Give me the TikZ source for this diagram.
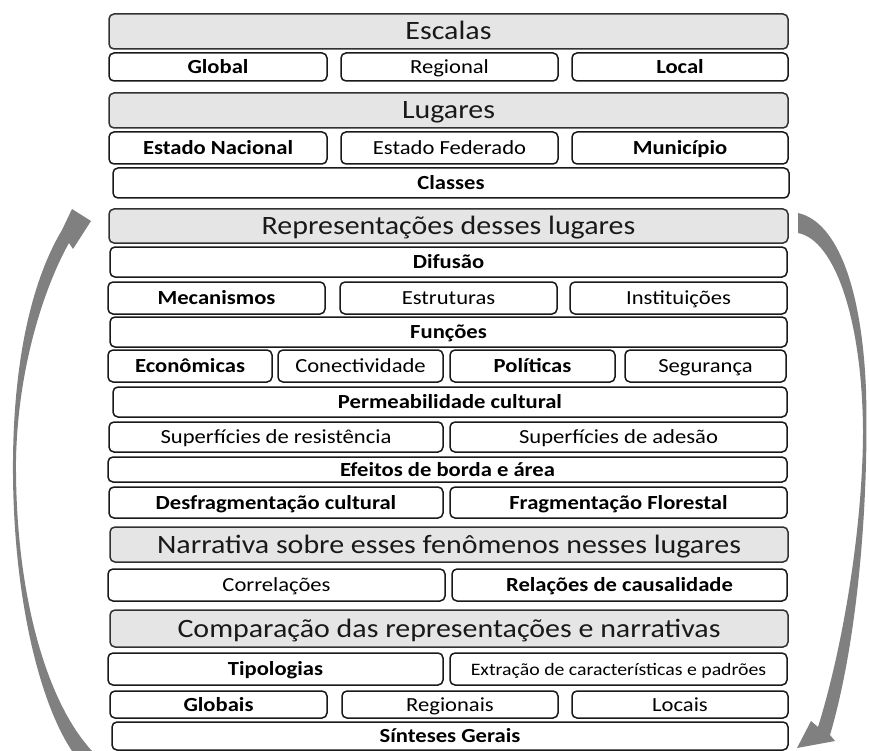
\documentclass[tikz,border=0pt]{standalone}
\usepackage{fontspec}
\setmainfont{Carlito}[FakeStretch=1.13]
\usepackage{tikz}

\definecolor{hdrgray}{RGB}{229,229,229}
\definecolor{arrowgray}{RGB}{128,128,128}
\definecolor{edgegray}{RGB}{50,50,50}

\begin{document}
\begin{tikzpicture}[x=1pt, y=-1pt,
        hdr/.style={draw=edgegray, fill=hdrgray, line width=1.5pt, rounded corners=5pt, inner sep=1pt, text height=21pt, text depth=4pt, font=\fontsize{26.5}{30}\selectfont, text=black!90},
        cell/.style={draw=black!90, fill=white, line width=1.5pt, rounded corners=5pt, inner sep=1pt, text height=16pt, text depth=3pt, font=\fontsize{20}{22}\selectfont},
        cellb/.style={cell, font=\fontsize{20}{22}\selectfont\bfseries}]

        \useasboundingbox (0, 0) rectangle (869, 751);

        % escalas
        \node[hdr, minimum width=679, minimum height=35] (escalas) at (448.5, 31.5) {Escalas};
        \node[cellb, minimum width=218, minimum height=28] (global) at (218, 67) {Global};
        \node[cell, minimum width=217, minimum height=28] (regional) at (449.5, 67) {Regional};
        \node[cellb, minimum width=216, minimum height=28] (local) at (680, 67) {Local};

        % lugares
        \node[hdr, minimum width=679, minimum height=35] (lugares) at (448.5, 110.5) {Lugares};
        \node[cellb, minimum width=218, minimum height=32] (estnac) at (218, 148) {Estado Nacional};
        \node[cell, minimum width=217, minimum height=32] (estfed) at (449.5, 148) {Estado Federado};
        \node[cellb, minimum width=216, minimum height=32] (municipio) at (680, 148) {Município};
        \node[cellb, minimum width=676, minimum height=30] (classes) at (451, 183) {Classes};

        % representacoes
        \node[hdr, minimum width=679, minimum height=34] (repres) at (448.5, 226) {Representações desses lugares};
        \node[cellb, minimum width=677, minimum height=30] (difusao) at (448.5, 262) {Difusão};
        \node[cellb, minimum width=217, minimum height=32] (mecan) at (216.5, 298) {Mecanismos};
        \node[cell, minimum width=217, minimum height=32] (estrut) at (448.5, 298) {Estruturas};
        \node[cell, minimum width=217, minimum height=32] (instit) at (678.5, 298) {Instituições};
        \node[cellb, minimum width=677, minimum height=30] (funcoes) at (448.5, 332) {Funções};
        \node[cellb, minimum width=164, minimum height=32] (econ) at (190, 366) {Econômicas};
        \node[cell, minimum width=165, minimum height=32] (conect) at (360.5, 366) {Conectividade};
        \node[cellb, minimum width=165, minimum height=32] (polit) at (532.5, 366) {Políticas};
        \node[cell, minimum width=161, minimum height=32] (segur) at (705.5, 366) {Segurança};
        \node[cellb, minimum width=674, minimum height=30] (permeab) at (450, 402) {Permeabilidade cultural};
        \node[cell, minimum width=334, minimum height=30] (supres) at (276, 437) {Superfícies de resistência};
        \node[cell, minimum width=337, minimum height=30] (supades) at (618.5, 437) {Superfícies de adesão};
        \node[cellb, minimum width=679, minimum height=25] (efeitos) at (447.5, 469.5) {Efeitos de borda e área};
        \node[cellb, minimum width=334, minimum height=31] (desfrag) at (276, 502.5) {Desfragmentação cultural};
        \node[cellb, minimum width=337, minimum height=31] (fragflor) at (618.5, 502.5) {Fragmentação Florestal};

        % narrativa
        \node[hdr, minimum width=678, minimum height=35] (narrat) at (449, 544.5) {Narrativa sobre esses fenômenos nesses lugares};
        \node[cell, minimum width=337, minimum height=32] (correl) at (276.5, 585) {Correlações};
        \node[cellb, minimum width=335, minimum height=32] (causal) at (619.5, 585) {Relações de causalidade};

        % comparacao
        \node[hdr, minimum width=678, minimum height=37] (compar) at (449, 628.5) {Comparação das representações e narrativas};
        \node[cellb, minimum width=335, minimum height=32] (tipol) at (275.5, 669) {Tipologias};
        \node[cell, minimum width=337, minimum height=32, font=\fontsize{17.5}{20}\selectfont] (extrac) at (618.5, 669) {Extração de características e padrões};
        \node[cellb, minimum width=217, minimum height=27] (globais) at (218.5, 704.5) {Globais};
        \node[cell, minimum width=216, minimum height=27] (regionais) at (450, 704.5) {Regionais};
        \node[cell, minimum width=216, minimum height=27] (locais) at (680, 704.5) {Locais};
        \node[cellb, minimum width=676, minimum height=28] (sinteses) at (450, 736) {Sínteses Gerais};

        % ciclo
        \fill[arrowgray] (72, 751) .. controls (38, 700) and (12, 590) .. (13, 460) .. controls (14, 350) and (35, 275) .. (62, 230) -- (72, 209) -- (91, 221) -- (73, 249) -- (69, 243) .. controls (48, 280) and (18, 360) .. (16, 460) .. controls (15, 590) and (45, 700) .. (92, 751) -- cycle;
        \fill[arrowgray] (798, 213) .. controls (838, 222) and (862, 290) .. (866, 390) .. controls (869, 500) and (858, 640) .. (830, 735) -- (835, 741) -- (797, 748) -- (811, 721) -- (818, 727) .. controls (845, 640) and (863, 520) .. (863, 430) .. controls (862, 320) and (835, 240) .. (798, 233) -- cycle;

      \end{tikzpicture}
\end{document}
